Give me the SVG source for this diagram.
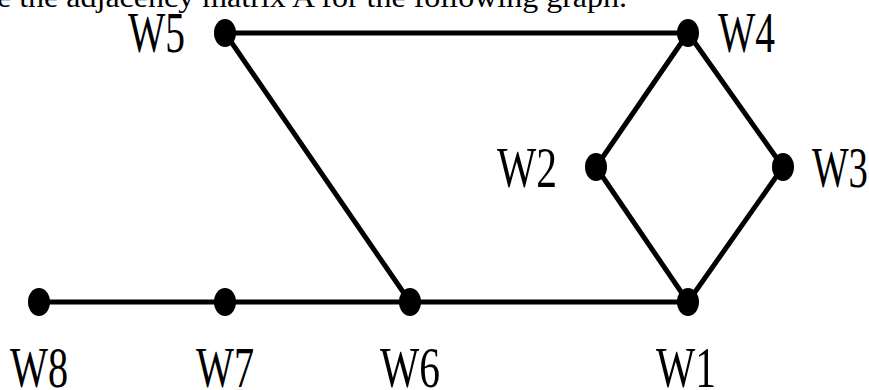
<svg xmlns="http://www.w3.org/2000/svg" width="869" height="390" viewBox="0 0 869 390">
<style>
.e{stroke:#000;stroke-width:5;fill:none}
.n{fill:#000}
.l{font-family:"Liberation Serif","Times New Roman",serif;font-size:56px;fill:#000}
.t{font-family:"Liberation Serif","Times New Roman",serif;font-size:30px;fill:#000}
</style>
<rect width="869" height="390" fill="#fff"/>
<text class="t" x="-3" y="7" textLength="630" lengthAdjust="spacingAndGlyphs">e the adjacency matrix A for the following graph.</text>
<g id="edges">
<line class="e" x1="225" y1="33" x2="688" y2="33"/>
<line class="e" x1="225" y1="33" x2="410" y2="302"/>
<line class="e" x1="688" y1="33" x2="596" y2="167"/>
<line class="e" x1="688" y1="33" x2="783" y2="167"/>
<line class="e" x1="596" y1="167" x2="688" y2="302"/>
<line class="e" x1="783" y1="167" x2="688" y2="302"/>
<line class="e" x1="39" y1="302" x2="410" y2="302"/>
<line class="e" x1="410" y1="302" x2="688" y2="302"/>
</g>
<g id="W5"><ellipse class="n" cx="225" cy="33" rx="11" ry="14"/><text class="l" x="128" y="52" textLength="57" lengthAdjust="spacingAndGlyphs">W5</text></g>
<g id="W4"><ellipse class="n" cx="688" cy="33" rx="11" ry="14"/><text class="l" x="718" y="52" textLength="57" lengthAdjust="spacingAndGlyphs">W4</text></g>
<g id="W2"><ellipse class="n" cx="596" cy="167" rx="11" ry="14"/><text class="l" x="497" y="187" textLength="60" lengthAdjust="spacingAndGlyphs">W2</text></g>
<g id="W3"><ellipse class="n" cx="783" cy="167" rx="11" ry="14"/><text class="l" x="812" y="187" textLength="56" lengthAdjust="spacingAndGlyphs">W3</text></g>
<g id="W8"><ellipse class="n" cx="39" cy="302" rx="11" ry="14"/><text class="l" x="10" y="387" textLength="58" lengthAdjust="spacingAndGlyphs">W8</text></g>
<g id="W7"><ellipse class="n" cx="225" cy="302" rx="11" ry="14"/><text class="l" x="196" y="387" textLength="58" lengthAdjust="spacingAndGlyphs">W7</text></g>
<g id="W6"><ellipse class="n" cx="410" cy="302" rx="11" ry="14"/><text class="l" x="380" y="387" textLength="60" lengthAdjust="spacingAndGlyphs">W6</text></g>
<g id="W1"><ellipse class="n" cx="688" cy="302" rx="11" ry="14"/><text class="l" x="656" y="387" textLength="60" lengthAdjust="spacingAndGlyphs">W1</text></g>
</svg>
